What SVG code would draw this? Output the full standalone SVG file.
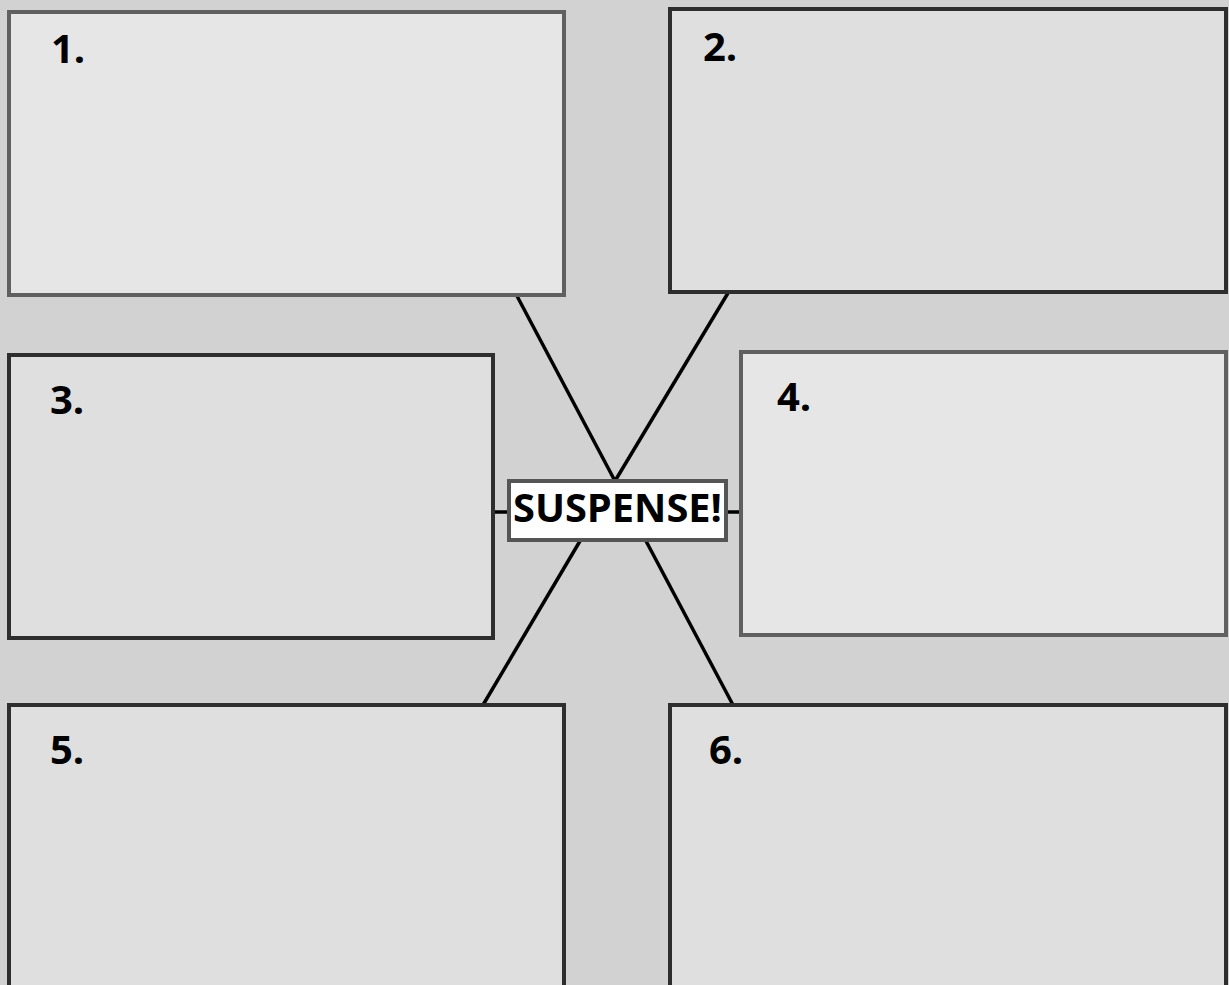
<svg xmlns="http://www.w3.org/2000/svg" width="1229" height="985" viewBox="0 0 1229 985">
<style>
.bg{fill:#d2d2d2}
.box{stroke-width:4}
.light{fill:#e6e6e6;stroke:#606060}
.dark{fill:#dfdfdf;stroke:#2e2e2e}
.lbl{font-family:"Open Sans","DejaVu Sans",sans-serif;font-weight:bold;font-size:40px;fill:#000}
.conn line{stroke:#000;stroke-width:3.5}
.center{fill:#fff;stroke:#555;stroke-width:4}
</style>
<rect class="bg" x="0" y="0" width="1229" height="985"/>
<g class="conn" id="connectors">
<line x1="517" y1="296" x2="615" y2="481"/>
<line x1="728" y1="293" x2="615" y2="481"/>
<line x1="580" y1="541" x2="483" y2="705"/>
<line x1="646" y1="541" x2="733" y2="705"/>
<line x1="493" y1="512" x2="509" y2="512"/>
<line x1="726" y1="512" x2="741" y2="512"/>
</g>
<g id="box1"><rect class="box light" x="9" y="12" width="555" height="283"/><text class="lbl" x="51" y="63">1.</text></g>
<g id="box2"><rect class="box dark" x="670" y="9" width="556" height="283"/><text class="lbl" x="703" y="61">2.</text></g>
<g id="box3"><rect class="box dark" x="9" y="355" width="484" height="283"/><text class="lbl" x="50" y="414">3.</text></g>
<g id="box4"><rect class="box light" x="741" y="352" width="485" height="283"/><text class="lbl" x="777" y="411">4.</text></g>
<g id="box5"><rect class="box dark" x="9" y="705" width="555" height="300"/><text class="lbl" x="50" y="764">5.</text></g>
<g id="box6"><rect class="box dark" x="670" y="705" width="556" height="300"/><text class="lbl" x="709" y="764">6.</text></g>
<g id="center"><rect class="center" x="509" y="481" width="217" height="59"/><text class="lbl" x="513" y="522" textLength="209" lengthAdjust="spacingAndGlyphs">SUSPENSE!</text></g>
</svg>
